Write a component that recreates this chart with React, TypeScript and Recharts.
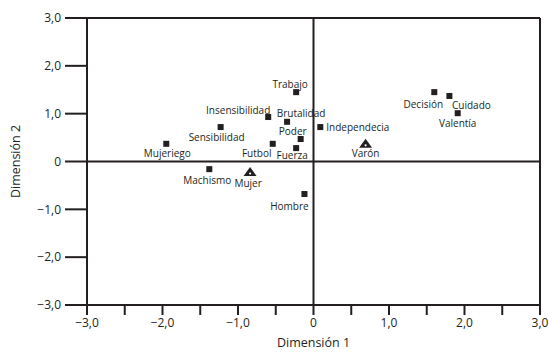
import {
  ScatterChart, Scatter, XAxis, YAxis, ReferenceLine,
} from 'recharts';

// términos (cuadrados)
const TERMS = [
  'Trabajo', 'Insensibilidad', 'Brutalidad', 'Independecia', 'Poder',
  'Sensibilidad', 'Mujeriego', 'Futbol', 'Fuerza', 'Machismo',
  'Hombre', 'Decisión', 'Cuidado', 'Valentía',
];
const TERM_X = [-0.23, -0.60, -0.35, 0.09, -0.17, -1.23, -1.95, -0.54, -0.23, -1.38, -0.12, 1.60, 1.80, 1.91];
const TERM_Y = [1.45, 0.93, 0.83, 0.72, 0.47, 0.72, 0.37, 0.37, 0.28, -0.16, -0.68, 1.45, 1.37, 1.01];

// grupos (triángulos)
const GROUPS = ['Mujer', 'Varón'];
const GROUP_X = [-0.84, 0.69];
const GROUP_Y = [-0.22, 0.37];

const X_TICKS = [-3, -2.5, -2, -1.5, -1, -0.5, 0, 0.5, 1, 1.5, 2, 2.5, 3];
const Y_TICKS = [-3, -2, -1, 0, 1, 2, 3];

// desplazamiento de las etiquetas respecto al punto (layout)
const LABEL_POS: Record<string, [number, number, string?]> = {
  Trabajo: [-6, -8],
  Insensibilidad: [-30, -7],
  Brutalidad: [14, -9],
  Independecia: [6, 0, 'start'],
  Poder: [-8, -8],
  Sensibilidad: [-4, 10],
  Mujeriego: [1, 9],
  Futbol: [-16, 9],
  Fuerza: [-4, 7],
  Machismo: [-2, 11],
  Hombre: [-15, 12],
  Decisión: [-11, 12],
  Cuidado: [22, 9],
  Valentía: [0, 10],
  Mujer: [-2, 11],
  Varón: [0, 9],
};

const INK = '#231f20';
const FONT = '"Open Sans", sans-serif';

const termData = TERMS.map((name, i) => ({ name, x: TERM_X[i], y: TERM_Y[i] }));
const groupData = GROUPS.map((name, i) => ({ name, x: GROUP_X[i], y: GROUP_Y[i] }));

const fmt = (v: number) =>
  v === 0 ? '0' : (v < 0 ? '\u2212' : '') + Math.abs(v).toFixed(1).replace('.', ',');

function Label({ cx, cy, name }: { cx: number; cy: number; name: string }) {
  const [dx, dy, anchor] = LABEL_POS[name] ?? [0, 10];
  return (
    <text
      x={cx + dx}
      y={cy + dy}
      textAnchor={anchor ?? 'middle'}
      dominantBaseline="central"
      fontSize={10}
      fontFamily={FONT}
      fill={INK}
    >
      {name}
    </text>
  );
}

function SquareShape(props: any) {
  const { cx, cy, payload } = props;
  return (
    <g>
      <rect x={cx - 3} y={cy - 3} width={6} height={6} fill={INK} />
      <Label cx={cx} cy={cy} name={payload.name} />
    </g>
  );
}

function TriangleShape(props: any) {
  const { cx, cy, payload } = props;
  return (
    <g>
      <path d={`M${cx},${cy - 5} L${cx + 6.5},${cy + 4} L${cx - 6.5},${cy + 4} Z`} fill={INK} />
      <circle cx={cx} cy={cy + 1.5} r={1.1} fill="#fff" />
      <Label cx={cx} cy={cy} name={payload.name} />
    </g>
  );
}

export default function App() {
  return (
    <div style={{ position: 'absolute', left: 0, top: 0, background: '#fff' }}>
      <ScatterChart width={549} height={354} margin={{ top: 18, right: 9, bottom: 0, left: 0 }}>
        <XAxis
          type="number"
          dataKey="x"
          domain={[-3, 3]}
          ticks={X_TICKS}
          interval={0}
          tickFormatter={(v: number) => (Number.isInteger(v) ? fmt(v) : '')}
          tickSize={10}
          tickMargin={3}
          height={49}
          axisLine={{ stroke: INK, strokeWidth: 2 }}
          tickLine={{ stroke: INK, strokeWidth: 2 }}
          tick={{ fill: INK, fontSize: 12, fontFamily: FONT }}
          label={{ value: 'Dimensión 1', position: 'insideBottom', offset: 7, fill: INK, fontSize: 12.5, fontFamily: FONT }}
        />
        <YAxis
          type="number"
          dataKey="y"
          domain={[-3, 3]}
          ticks={Y_TICKS}
          interval={0}
          tickFormatter={fmt}
          tickSize={22}
          tickMargin={4}
          width={87}
          axisLine={{ stroke: INK, strokeWidth: 2 }}
          tickLine={{ stroke: INK, strokeWidth: 2 }}
          tick={{ fill: INK, fontSize: 12, fontFamily: FONT }}
          label={{ value: 'Dimensión 2', angle: -90, position: 'insideLeft', offset: 16, fill: INK, fontSize: 12.5, fontFamily: FONT, style: { textAnchor: 'middle' } }}
        />
        <ReferenceLine y={3} stroke={INK} strokeWidth={2} />
        <ReferenceLine x={3} stroke={INK} strokeWidth={2} />
        <ReferenceLine y={0} stroke={INK} strokeWidth={2} />
        <ReferenceLine x={0} stroke={INK} strokeWidth={2} />
        <Scatter data={termData} shape={SquareShape} isAnimationActive={false} />
        <Scatter data={groupData} shape={TriangleShape} isAnimationActive={false} />
      </ScatterChart>
    </div>
  );
}
